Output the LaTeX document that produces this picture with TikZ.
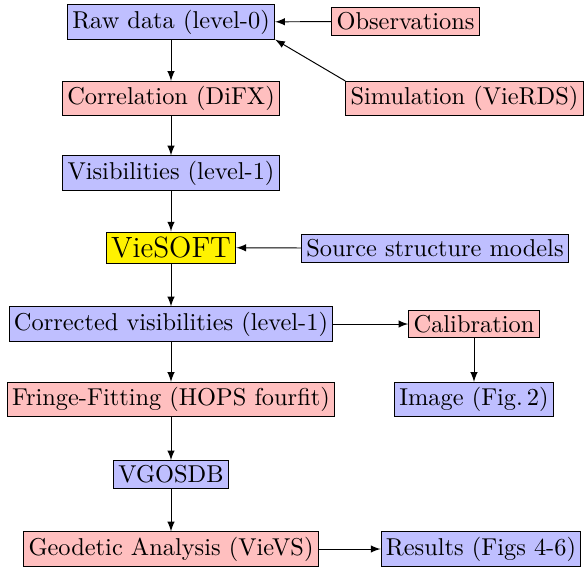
\documentclass[tikz,border=0pt]{standalone}
\usetikzlibrary{arrows}

\begin{document}
\begin{tikzpicture}[x=0.41pt, y=-0.41pt, thin,
	blue box/.style={draw, fill=blue!25, inner sep=2pt},
	red box/.style={draw, fill=red!25, inner sep=2pt},
	soft box/.style={draw, fill=yellow, inner sep=2pt, font=\large}]
	\useasboundingbox (0,0) rectangle (585,566);
	
	%main chain, data levels
	\node[blue box] (raw) at (171,22) {Raw data (level-0)};
	\node[red box] (corr) at (171,98.5) {Correlation (DiFX)};
	\node[blue box] (vis) at (171,173) {Visibilities (level-1)};
	\node[soft box] (soft) at (171,247.5) {VieSOFT};
	\node[blue box] (corrvis) at (171,324) {Corrected visibilities (level-1)};
	\node[red box] (fringe) at (171,399.5) {Fringe-Fitting (HOPS fourfit)};
	\node[blue box] (vgos) at (171,474.5) {VGOSDB};
	\node[red box] (geo) at (171,549) {Geodetic Analysis (VieVS)};
	
	%inputs on the right
	\node[red box] (obs) at (405.5,21.5) {Observations};
	\node[red box] (sim) at (464.5,98.5) {Simulation (VieRDS)};
	\node[blue box] (src) at (435,248.5) {Source structure models};
	
	%outputs on the right
	\node[red box] (cal) at (474,324) {Calibration};
	\node[blue box] (img) at (474,399.5) {Image (Fig.\,2)};
	\node[blue box] (res) at (481,549) {Results (Figs 4-6)};
	
	%flow down the chain
	\draw[-latex] (raw) -- (corr);
	\draw[-latex] (corr) -- (vis);
	\draw[-latex] (vis) -- (soft);
	\draw[-latex] (soft) -- (corrvis);
	\draw[-latex] (corrvis) -- (fringe);
	\draw[-latex] (fringe) -- (vgos);
	\draw[-latex] (vgos) -- (geo);
	
	%side arrows
	\draw[-latex] (obs) -- (raw);
	\draw[-latex] (sim.north west) -- (raw.south east);
	\draw[-latex] (src) -- (soft);
	\draw[-latex] (corrvis) -- (cal);
	\draw[-latex] (cal) -- (img);
	\draw[-latex] (geo) -- (res);

\end{tikzpicture}
\end{document}
